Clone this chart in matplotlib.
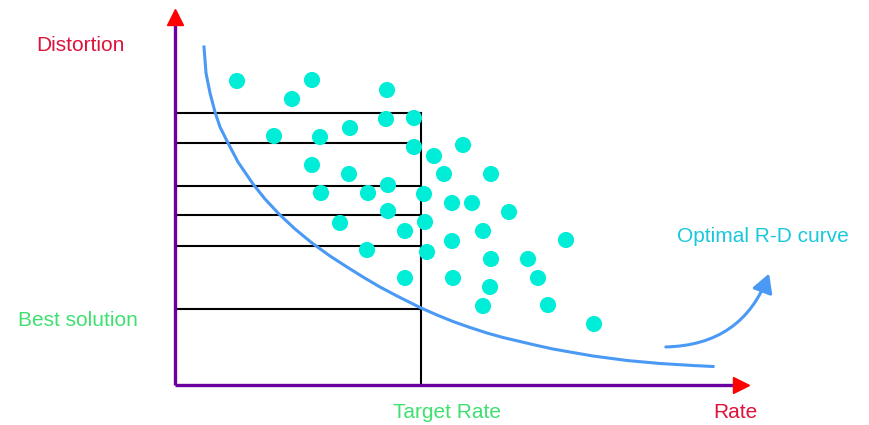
import matplotlib.pyplot as plt
import numpy as np
from matplotlib.patches import FancyArrowPatch

# positions are in picture units: x = rate, y = distortion (drawn downwards)
dots_x = [237, 312, 292, 387, 274, 320, 350, 386, 414, 414, 434, 463, 312, 349, 444, 491,
          321, 368, 388, 424, 452, 472, 388, 509, 340, 405, 425, 483, 566, 367, 452, 427,
          491, 528, 405, 453, 538, 490, 483, 548, 594]
dots_y = [81, 80, 99, 90, 136, 137, 128, 119, 118, 147, 156, 145, 165, 174, 174, 174,
          193, 193, 185, 194, 203, 203, 211, 212, 223, 231, 222, 231, 240, 250, 241, 252,
          259, 259, 278, 278, 278, 287, 306, 305, 324]

curve_x = [204, 206, 210, 215, 220, 228, 238, 253, 265, 279, 295, 312, 330, 347, 363,
           380, 397, 420, 437, 453, 470, 487, 503, 520, 537, 553, 570, 593, 627, 660,
           693, 713]
curve_y = [47, 73, 93, 112, 127, 143, 162, 184, 199, 214, 229, 243, 256, 267, 277,
           287, 296, 307.5, 315, 321.5, 327.5, 333, 337.5, 341.5, 345.5, 349, 352, 356,
           360.5, 363.5, 365.5, 366.5]

levels = [113, 143, 186, 215, 246, 309]   # distortion levels (horizontal lines)
target_rate = 421
origin = (175, 385)

fam = ['Liberation Sans', 'DejaVu Sans']
fs = 15

fig = plt.figure(figsize=(8.69, 4.25), dpi=100)
ax = fig.add_axes([0, 0, 1, 1])
ax.set_xlim(0, 869)
ax.set_ylim(425, 0)
ax.axis('off')

purple = '#6a00a0'
red = '#ff0000'

# distortion levels and target rate
for lv in levels:
    ax.plot([origin[0], target_rate], [lv, lv], color='black', lw=1.5, zorder=2)
ax.plot([target_rate, target_rate], [levels[0], origin[1]], color='black', lw=1.5, zorder=2)

# axes
ax.plot([origin[0], origin[0]], [origin[1], 24], color=purple, lw=2.4, zorder=3,
        solid_capstyle='butt')
ax.plot([origin[0], 734], [origin[1], origin[1]], color=purple, lw=2.4, zorder=3,
        solid_capstyle='butt')
ax.plot([origin[0]], [17], marker='^', color=red, ms=12, zorder=4)
ax.plot([741], [origin[1]], marker='>', color=red, ms=12, zorder=4)

# R-D curve and points
ax.plot(curve_x, curve_y, color='#4a9af5', lw=2.2, zorder=5, solid_joinstyle='round')
ax.scatter(dots_x, dots_y, s=135, color='#00eed8', edgecolors='none', zorder=6)

arr = FancyArrowPatch((663, 347), (770, 271), connectionstyle='arc3,rad=0.35',
                      arrowstyle='-|>,head_length=0.8,head_width=0.45',
                      mutation_scale=14, color='#4a9af5', lw=2.2, zorder=5)
ax.add_patch(arr)

ax.text(80, 45, 'Distortion', color='#dc143c', fontsize=fs, family=fam,
        ha='center', va='center')
ax.text(78, 320, 'Best solution', color='#3ee070', fontsize=fs, family=fam,
        ha='center', va='center')
ax.text(447, 412, 'Target Rate', color='#3ee070', fontsize=fs, family=fam,
        ha='center', va='center')
ax.text(735, 412, 'Rate', color='#dc143c', fontsize=fs, family=fam,
        ha='center', va='center')
ax.text(763, 236, 'Optimal R-D curve', color='#1ac8dc', fontsize=fs, family=fam,
        ha='center', va='center')

fig.savefig('out.png', dpi=100)
